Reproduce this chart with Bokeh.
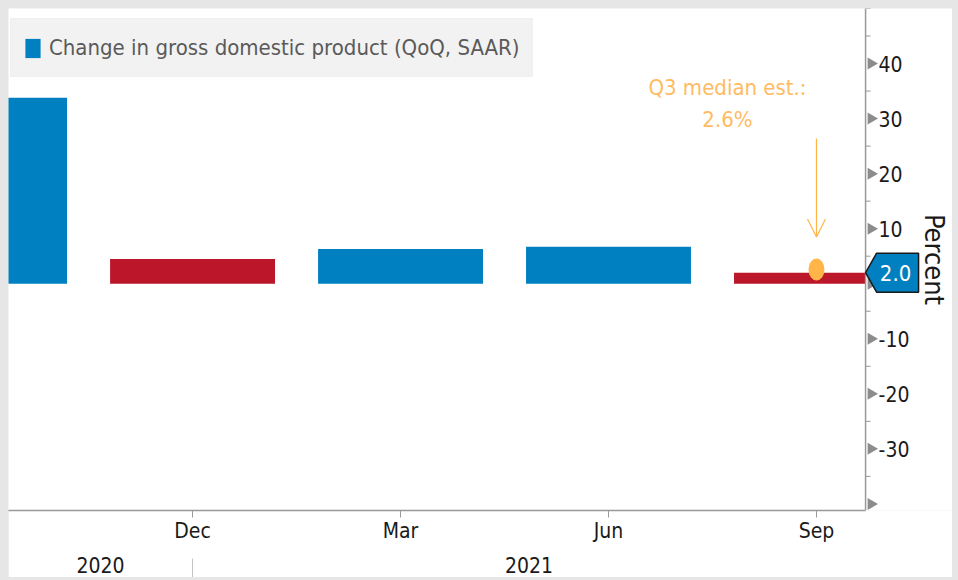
import math
from bokeh.plotting import figure
from bokeh.layouts import column
from bokeh.models import (Range1d, FixedTicker, LinearAxis, Legend, LegendItem, Label,
                          Arrow, OpenHead, ColumnDataSource)
from bokeh.core.properties import value
from bokeh.embed import file_html
from bokeh.resources import INLINE

# ---------------- data ----------------
quarters = ["Sep 2020", "Dec 2020", "Mar 2021", "Jun 2021", "Sep 2021"]
quarter_ticks = ["Sep", "Dec", "Mar", "Jun", "Sep"]
gdp_change = [33.8, 4.5, 6.3, 6.7, 2.0]
years = ["2020", "2021"]
last_2020_index = 1
median_est = 2.6
y_ticks = [-40, -30, -20, -10, 0, 10, 20, 30, 40]
y_tick_labels = ["", "-30", "-20", "-10", "", "10", "20", "30", "40"]
y_minor = [-35, -25, -15, -5, 5, 15, 25, 35, 45, 50]

# ---------------- style / layout ----------------
BLUE = "#0080c0"
RED = "#bb1629"
ORANGE = "#ffb547"
ORANGE_TXT = "#ffbb62"
GRAY = "#999999"
TXT = "#1a1a1a"
PAGE_GRAY = "#e6e6e6"
FONT = "DejaVu Sans Condensed, sans-serif"

W, H = 944, 569
B_TOP, B_BOTTOM = 0, 67
FW = W
FH = H - B_TOP - B_BOTTOM

XMIN, AXIS_X, XEND = 0.115, 4.236, 4.654
YMIN, YMAX = -41.2, 50.0
px_x = FW / (XEND - XMIN)
px_y = FH / (YMAX - YMIN)
BAR_W = 0.793

xs = list(range(len(quarters)))
colors = [BLUE if i == 0 or gdp_change[i] >= gdp_change[i - 1] else RED for i in xs]
lefts = [x - BAR_W / 2 for x in xs]
rights = [min(x + BAR_W / 2, AXIS_X) for x in xs]
src = ColumnDataSource(dict(left=lefts, right=rights, top=gdp_change,
                            bottom=[0] * len(xs), color=colors, q=quarters))

p = figure(width=W, height=H, output_backend="svg", toolbar_location=None,
           x_range=Range1d(XMIN, XEND), y_range=Range1d(YMIN, YMAX),
           y_axis_location=None,
           min_border_left=0, min_border_right=0,
           min_border_top=B_TOP, min_border_bottom=B_BOTTOM)
p.outline_line_color = None
p.grid.visible = False
p.background_fill_color = "white"
p.border_fill_color = "white"
p.margin = (8, 6, 3, 8)

bars = p.quad(left="left", right="right", top="top", bottom="bottom",
              fill_color="color", line_color=None, source=src)

# ---------------- x axes ----------------
xa = p.xaxis[0]
xa.ticker = FixedTicker(ticks=xs)
xa.bounds = (XMIN, AXIS_X)
xa.major_label_overrides = {i: t for i, t in zip(xs, quarter_ticks)}
xa.axis_line_color = GRAY
xa.axis_line_width = 1.5
xa.major_tick_line_color = GRAY
xa.major_tick_out = 7
xa.major_tick_in = 0
xa.minor_tick_line_color = None
xa.minor_tick_out = 0
xa.minor_tick_in = 0
xa.major_label_text_font = FONT
xa.major_label_text_font_size = "21px"
xa.major_label_text_color = TXT
xa.major_label_standoff = 1

year_centers = [(XMIN + last_2020_index) / 2, (last_2020_index + AXIS_X) / 2]
ya2 = LinearAxis(ticker=FixedTicker(ticks=year_centers, minor_ticks=[last_2020_index]))
ya2.major_label_overrides = {c: y for c, y in zip(year_centers, years)}
ya2.axis_line_color = None
ya2.major_tick_line_color = None
ya2.major_tick_out = 0
ya2.major_tick_in = 0
ya2.minor_tick_line_color = "#c4c4c4"
ya2.minor_tick_in = -13
ya2.minor_tick_out = 35
ya2.major_label_text_font = FONT
ya2.major_label_text_font_size = "21px"
ya2.major_label_text_color = TXT
ya2.major_label_standoff = -24
p.add_layout(ya2, "below")

# ---------------- right value axis (drawn at the end of the period) ----------------
p.segment(x0=[AXIS_X], y0=[YMIN], x1=[AXIS_X], y1=[YMAX], line_color=GRAY, line_width=1.5)
p.segment(x0=[AXIS_X] * len(y_minor), y0=y_minor, x1=[AXIS_X + 5 / px_x] * len(y_minor),
          y1=y_minor, line_color=GRAY, line_width=1)
p.scatter(x=[AXIS_X + 5.5 / px_x] * len(y_ticks), y=y_ticks, marker="triangle", size=12,
          angle=-math.pi / 2, fill_color="#8c8c8c", line_color=None)
p.text(x=[AXIS_X + 13 / px_x] * len(y_ticks), y=y_ticks, text=y_tick_labels,
       text_align="left", text_baseline="middle", text_color=TXT,
       text_font=value(FONT), text_font_size="21px")
p.text(x=[AXIS_X + 69 / px_x], y=[(YMIN + YMAX) / 2], text=["Percent"], angle=-math.pi / 2,
       text_align="center", text_baseline="middle", text_color=TXT,
       text_font=value(FONT), text_font_size="27px")

# latest value callout
latest = gdp_change[-1]
h = 19.5 / px_y
p.patch(x=[AXIS_X + d / px_x for d in (0, 11, 53, 53, 11)],
        y=[latest, latest + h, latest + h, latest - h, latest - h],
        fill_color=BLUE, line_color=TXT, line_width=1.5)
p.text(x=[AXIS_X + 30 / px_x], y=[latest], text=[f"{latest:.1f}"], text_align="center",
       text_baseline="middle", text_color="white", text_font=value(FONT),
       text_font_size="22px")

# ---------------- median annotation ----------------
p.ellipse(x=[xs[-1]], y=[median_est], width=16, height=22, width_units="screen",
          height_units="screen", fill_color=ORANGE, line_color=None)
p.add_layout(Label(x=3.572, y=35.7, text="Q3 median est.:", text_align="center",
                   text_baseline="middle", text_color=ORANGE_TXT, text_font=FONT,
                   text_font_size="22px"))
p.add_layout(Label(x=3.572, y=29.9, text=f"{median_est}%", text_align="center",
                   text_baseline="middle", text_color=ORANGE_TXT, text_font=FONT,
                   text_font_size="22px"))
p.add_layout(Arrow(x_start=xs[-1], y_start=26.4, x_end=xs[-1], y_end=8.5,
                   line_color=ORANGE, line_width=1.2,
                   end=OpenHead(size=18, line_color=ORANGE, line_width=1.2)))

# ---------------- legend ----------------
legend = Legend(items=[LegendItem(label="Change in gross domestic product (QoQ, SAAR)",
                                  renderers=[bars], index=0)],
                location=(2, FH - 69), orientation="horizontal",
                background_fill_color="#f2f2f2", background_fill_alpha=1,
                border_line_color="#ececec", label_text_font=FONT,
                label_text_font_size="22px", label_text_color="#5a5a5a",
                glyph_width=19, glyph_height=24, padding=12, margin=0,
                label_standoff=7, label_height=33)
p.add_layout(legend)

layout = column(p, width=958, height=580, styles={"background-color": PAGE_GRAY})
open("out.html", "w").write(file_html(layout, INLINE))
